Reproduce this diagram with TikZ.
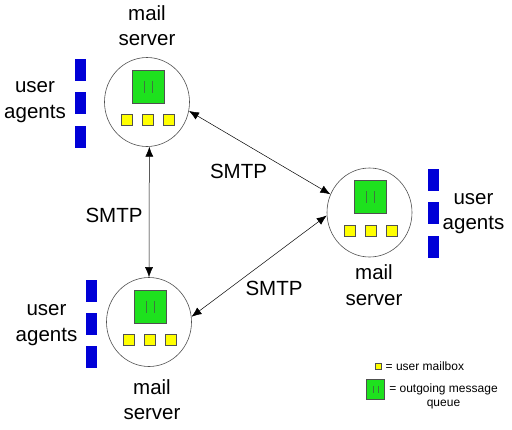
\documentclass[tikz,border=0pt]{standalone}
\usepackage{fontspec}
\setmainfont{Liberation Sans}
\usetikzlibrary{arrows.meta,shapes.geometric}
\definecolor{qgreen}{RGB}{30,225,30}
\definecolor{mbyellow}{RGB}{255,255,0}
\definecolor{uablue}{RGB}{0,0,215}
\definecolor{edgegray}{RGB}{80,80,80}
\definecolor{qline}{RGB}{60,120,60}
\newcommand\mailsrv[3]{%
  \node[server] (#1) at (#2,#3) {};
  \node[queue] (#1q) at ({#2+1},{#3-15.5}) {};
  \draw[qbar] ({#2-3},{#3-21.5}) -- ({#2-3},{#3-9.5});
  \draw[qbar] ({#2+5},{#3-21.5}) -- ({#2+5},{#3-9.5});
  \node[mailbox] (#1m1) at ({#2-20},{#3+18}) {};
  \node[mailbox] (#1m2) at ({#2+1},{#3+18}) {};
  \node[mailbox] (#1m3) at ({#2+22},{#3+18}) {};
}
\newcommand\agentbars[3]{%
  \node[agent] (#1a1) at (#2,{#3-33}) {};
  \node[agent] (#1a2) at (#2,#3) {};
  \node[agent] (#1a3) at (#2,{#3+33.5}) {};
}
\begin{document}
\begin{tikzpicture}[x=1pt,y=-1pt,
  server/.style={ellipse, draw=edgegray, line width=0.6pt, minimum width=85pt, minimum height=89pt, inner sep=0pt},
  queue/.style={draw=edgegray, fill=qgreen, minimum width=32pt, minimum height=33pt, inner sep=0pt, line width=0.6pt},
  qbar/.style={draw=qline, line width=0.8pt},
  mailbox/.style={draw=edgegray, fill=mbyellow, minimum size=11pt, inner sep=0pt, line width=0.5pt},
  agent/.style={fill=uablue, minimum width=11pt, minimum height=22pt, inner sep=0pt},
  lbl/.style={font=\fontsize{20.5}{25.5}\selectfont, align=center, inner sep=0pt},
  smtp/.style={font=\fontsize{20.5}{25}\selectfont, inner sep=0pt},
  legend/.style={font=\fontsize{12}{14}\selectfont, align=center, inner sep=0pt},
  link/.style={{Latex[length=10pt,width=8pt]}-{Latex[length=10pt,width=8pt]}, line width=0.5pt}
]
\useasboundingbox[fill=white] (0,0) rectangle (512,429);

% servers
\mailsrv{top}{147}{102}
\mailsrv{right}{369.5}{212.5}
\mailsrv{bot}{149}{322}

% user agents
\agentbars{top}{80.5}{103}
\agentbars{right}{433}{213}
\agentbars{bot}{91.5}{323.5}

% labels
\node[lbl] (toplbl) at (147,25.5) {mail\\server};
\node[lbl] (rightlbl) at (374,285) {mail\\server};
\node[lbl] (botlbl) at (152,399.5) {mail\\server};
\node[lbl] (topua) at (35,102) {user\\agents};
\node[lbl] (rightua) at (473.5,213.6) {user\\agents};
\node[lbl] (botua) at (46.5,325) {user\\agents};

% links
\draw[link] (top.-87) -- (bot.90);
\draw[link] (top.-12) -- (right.155);
\draw[link] (right.184) -- (bot.7);
\node[smtp] (smtp1) at (114,215.5) {SMTP};
\node[smtp] (smtp2) at (238.5,171) {SMTP};
\node[smtp] (smtp3) at (274,288.5) {SMTP};

% legend
\node[mailbox, minimum size=6.5pt] (legmb) at (378,366) {};
\node[legend, anchor=west] (legmbt) at (385.5,366) {= user mailbox};
\node[queue, minimum width=17.5pt, minimum height=20pt] (legq) at (375.5,389) {};
\draw[qbar, line width=0.6pt] (373,385.5) -- (373,392.5);
\draw[qbar, line width=0.6pt] (378,385.5) -- (378,392.5);
\node[legend] (legqt) at (443.5,396) {= outgoing message\\queue};
\end{tikzpicture}
\end{document}
